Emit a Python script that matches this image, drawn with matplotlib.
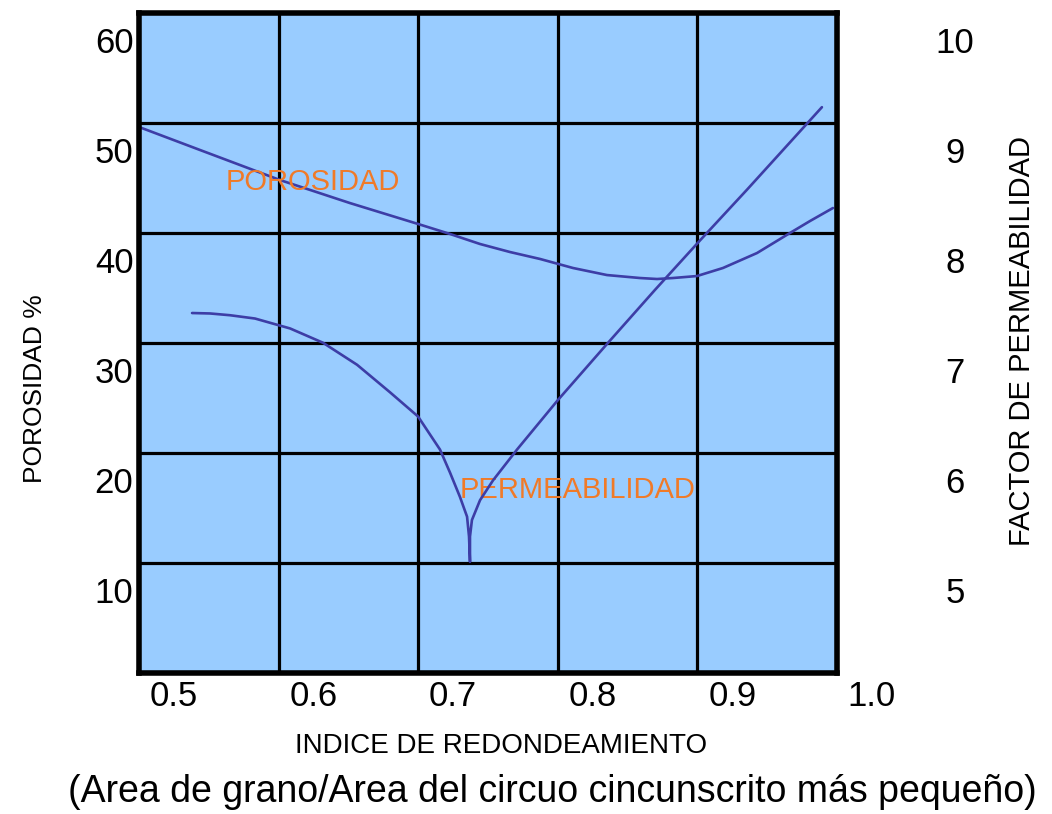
import matplotlib
matplotlib.use("Agg")
import matplotlib.pyplot as plt
import matplotlib.transforms as mtransforms

plt.rcParams['font.family'] = ['Liberation Sans', 'DejaVu Sans']

# ---- data ----
x_tick_labels = ["0.5", "0.6", "0.7", "0.8", "0.9", "1.0"]
x_tick_values = [0.5, 0.6, 0.7, 0.8, 0.9, 1.0]
y_left_ticks = [10, 20, 30, 40, 50, 60]
y_right_ticks = [5, 6, 7, 8, 9, 10]

poro_x = [0.475, 0.5187, 0.5760, 0.6261, 0.6749, 0.6978, 0.7193, 0.7408, 0.7623,
          0.7859, 0.8102, 0.8339, 0.8461, 0.8575, 0.8747, 0.8933, 0.9177, 0.9413,
          0.9557, 0.9721]
poro_y = [52.10, 50.01, 47.28, 45.19, 43.29, 42.38, 41.47, 40.74, 40.11,
          39.29, 38.65, 38.38, 38.29, 38.38, 38.56, 39.29, 40.65, 42.47,
          43.56, 44.74]

perm_x = [0.5130, 0.5259, 0.5402, 0.5581, 0.5832, 0.6068, 0.6312, 0.6548, 0.6749,
          0.6906, 0.6978, 0.7049, 0.7100, 0.7114, 0.7121, 0.7121, 0.7135, 0.7193,
          0.7286, 0.7458, 0.7751, 0.8110, 0.8446, 0.8769, 0.9105, 0.9642]
perm_y = [7.52, 7.516, 7.50, 7.47, 7.38, 7.25, 7.05, 6.80, 6.58,
          6.28, 6.07, 5.85, 5.67, 5.49, 5.26, 5.49, 5.64, 5.82,
          6.00, 6.28, 6.73, 7.25, 7.73, 8.18, 8.64, 9.39]

grid_x = [0.575, 0.675, 0.775, 0.875]
grid_y = [12.5, 22.5, 32.5, 42.5, 52.5]

# ---- styles ----
BG = '#99CCFF'
CURVE = '#3D3DA6'
ORANGE = '#F07A28'

W, H = 1052, 814
fig = plt.figure(figsize=(W / 100, H / 100), dpi=100)
fig.patch.set_facecolor('white')
ax = fig.add_axes([139 / W, 1 - 673 / H, 698 / W, 660.5 / H])
ax.set_facecolor(BG)
ax.set_xlim(0.475, 0.975)
ax.set_ylim(2.5, 62.5)

# grid lines
for gx in grid_x:
    ax.axvline(gx, color='black', lw=2.3, zorder=1)
for gy in grid_y:
    ax.axhline(gy, color='black', lw=2.3, zorder=1)

for s in ax.spines.values():
    s.set_linewidth(4.0)
    s.set_color('black')
    s.set_zorder(5)

ax.set_xticks([])
ax.set_yticks(y_left_ticks)
ax.set_yticklabels([str(v) for v in y_left_ticks], fontsize=25)
ax.tick_params(axis='y', length=0, pad=4)

# x tick labels (1.0 lies outside the plotting area)
trans = mtransforms.blended_transform_factory(ax.transData, ax.transAxes)
for v, lab in zip(x_tick_values, x_tick_labels):
    ax.text(v, -0.0363, lab, transform=trans, ha='center', va='center',
            fontsize=25, clip_on=False)

ax.plot(poro_x, poro_y, color=CURVE, lw=1.9, zorder=3,
        solid_joinstyle='round', solid_capstyle='round')

ax2 = ax.twinx()
ax2.set_ylim(4.25, 10.25)
ax2.set_yticks(y_right_ticks)
ax2.set_yticklabels([str(v) for v in y_right_ticks], fontsize=25)
ax2.tick_params(axis='y', length=0, pad=85)
for lab in ax2.get_yticklabels():
    lab.set_horizontalalignment('center')
for s in ax2.spines.values():
    s.set_visible(False)
ax2.plot(perm_x, perm_y, color=CURVE, lw=1.9, zorder=3,
         solid_joinstyle='round', solid_capstyle='round')

ax.text(0.5996, 47.1, "POROSIDAD", color=ORANGE, fontsize=21,
        ha='center', va='center', zorder=6)
ax.text(0.7888, 19.12, "PERMEABILIDAD", color=ORANGE, fontsize=21,
        ha='center', va='center', zorder=6)

fig.text(35 / W, 1 - 389 / H, "POROSIDAD %", rotation=90, fontsize=19,
         ha='center', va='center')
fig.text(1022 / W, 1 - 341 / H, "FACTOR DE PERMEABILIDAD", rotation=90,
         fontsize=21, ha='center', va='center')
fig.text(501 / W, 1 - 746 / H, "INDICE DE REDONDEAMIENTO", fontsize=20,
         ha='center', va='center')
fig.text(552 / W, 1 - 792 / H,
         "(Area de grano/Area del circuo cincunscrito más pequeño)",
         fontsize=27, ha='center', va='center')

fig.savefig("out.png", dpi=100)
